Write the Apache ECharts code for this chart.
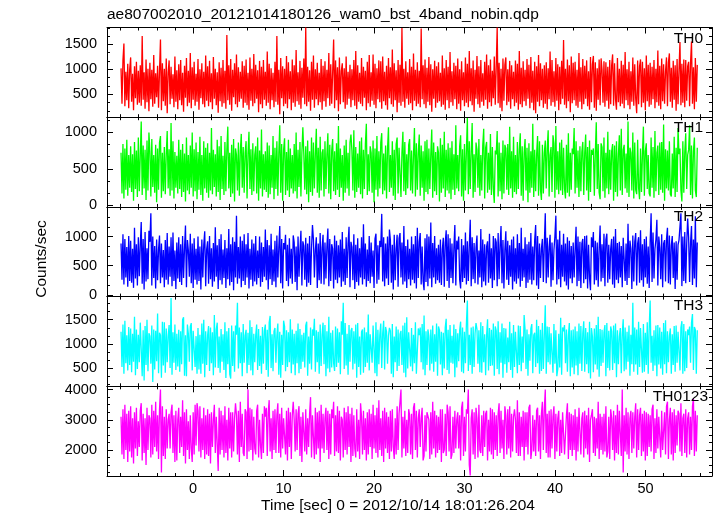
<!DOCTYPE html>
<html><head><meta charset="utf-8">
<script src="https://cdn.jsdelivr.net/npm/echarts@6/dist/echarts.min.js"></script>
<style>html,body{margin:0;padding:0;background:#fff}#c{width:717px;height:516px}</style>
</head><body><div id="c"></div>
<script>
// ---------- data ----------
const chartTitle = "ae807002010_20121014180126_wam0_bst_4band_nobin.qdp";
const xTitle = "Time [sec] 0 = 2012/10/14 18:01:26.204";
const yTitle = "Counts/sec";
const bandNames = ["TH0", "TH1", "TH2", "TH3", "TH0123"];
const timeStart = -7.95;   // first bin time (s)
const timeStep = 0.1063;   // bin spacing (s)
const xTickValues = [0, 10, 20, 30, 40, 50];
const yTicksTH0 = [500, 1000, 1500];
const yTicksTH1 = [0, 500, 1000];
const yTicksTH2 = [0, 500, 1000];
const yTicksTH3 = [500, 1000, 1500];
const yTicksTH0123 = [2000, 3000, 4000];

const th0 = [
1020,310,1180,1520,260,950,380,1110,220,990,
1240,350,910,180,1060,420,1150,290,970,330,
1080,270,1670,390,940,210,1200,340,1010,160,
1130,400,990,250,1290,310,920,440,1070,230,
960,1600,180,1120,360,1010,270,1220,120,940,
1180,300,1050,410,900,240,1260,350,980,200,
1100,380,1190,280,930,150,1070,430,1230,260,
970,330,1330,220,1040,390,1150,270,910,350,
1210,190,1000,420,1120,300,950,240,1280,370,
1060,260,1170,340,920,200,1250,410,1010,280,
940,130,1140,360,1030,250,1190,320,970,210,
1690,380,1080,290,1210,170,990,440,1120,300,
1300,240,1040,350,950,410,1160,230,1070,330,
1200,280,930,190,1240,370,1010,260,1310,320,
1090,410,980,140,1170,300,1050,220,1190,390,
950,270,1360,330,1110,200,1020,380,930,240,
1150,350,1670,290,990,100,1230,420,1060,260,
1010,310,1270,220,1140,400,960,180,1200,330,
1080,250,1390,360,940,290,1170,210,1030,430,
1220,300,1840,260,1050,350,980,170,1150,390,
1280,230,1000,400,1130,280,930,340,1210,190,
1070,360,1160,250,990,420,1330,270,1100,310,
950,1600,220,1180,380,1040,160,1240,300,970,
1120,340,1020,210,1260,290,950,410,1090,240,
1000,380,1190,270,1370,200,1080,350,930,310,
1230,260,1050,430,970,180,1150,320,1290,250,
940,370,1300,290,1110,220,1020,400,1180,340,
1160,210,1260,360,950,280,1070,190,1230,420,
1040,300,1400,250,1120,380,980,140,1190,330,
1090,270,1830,350,1010,230,1160,410,940,290,
1210,320,1050,180,1320,370,990,260,1140,310,
970,240,1820,400,1080,300,1200,220,1030,350,
1250,280,1100,150,1000,410,1170,230,1060,330,
1140,360,930,250,1280,290,1020,190,1190,380,
1050,220,1350,340,960,270,1130,400,1070,200,
1220,310,1000,170,1160,380,940,260,1240,330,
1110,240,1370,360,1020,280,1180,150,990,410,
1270,300,1060,230,1190,350,920,270,1150,390,
1300,210,1080,340,1200,260,970,420,1260,290,
1040,1840,320,1130,230,1010,160,1220,370,1090,
1240,280,1000,350,1170,210,1080,400,950,260,
1180,330,1110,190,1370,300,1030,240,1160,360,
990,270,1210,410,1090,220,1250,330,970,180,
1150,120,1060,350,1290,260,1120,380,1010,230,
1080,310,1140,200,1020,400,1360,270,1190,340,
960,250,1230,370,1100,180,1050,300,1170,410,
1590,290,1010,220,1200,360,1080,140,1260,320,
1130,380,1150,270,990,230,1330,350,1040,200,
1210,300,1070,410,1180,260,960,190,1250,340,
1100,1270,230,1140,170,1020,390,1200,280,1220,
990,330,1160,250,1140,370,1050,210,1190,300,
1080,1300,270,1120,400,190,1230,340,1010,260,
1170,310,1090,220,1350,380,1000,280,1150,200,
960,350,1240,270,1100,410,120,1180,300,1060,
1200,240,1150,330,1020,180,1280,360,1090,250,
1130,290,1050,400,1190,220,1010,340,1380,270,
1070,200,1220,360,1100,310,960,1240,260,1140,
1320,350,1030,230,1170,390,1080,170,1210,300,
990,1550,280,1110,330,1200,240,1190,370,1060,
1150,260,1130,1560,310,1040,200,1230,350,1090
];
const th1 = [
720,160,840,90,780,210,900,130,690,240,
810,180,700,60,870,220,750,110,930,190,
680,1150,140,820,230,760,70,890,200,1000,
740,120,910,250,690,170,830,40,780,210,
860,950,100,720,190,800,150,700,1020,230,
770,130,1130,200,880,90,730,240,680,160,
900,220,760,110,840,180,710,50,930,200,
690,150,820,240,1000,120,770,190,860,80,
730,210,940,140,690,60,880,230,790,170,
850,100,720,200,1060,150,760,250,700,120,
900,180,810,70,950,220,680,140,870,190,
760,1080,230,720,110,830,160,910,50,780,
690,200,860,130,740,980,240,800,170,720,
880,90,710,1010,220,770,140,850,190,690,
810,160,930,60,750,230,1040,120,700,210,
740,180,860,100,820,150,690,240,950,80,
790,220,880,130,710,1100,170,840,60,760,
920,140,730,200,900,110,780,230,690,160,
840,190,1000,90,760,250,870,120,720,1070,
700,210,810,150,890,40,740,180,930,130,
860,230,700,1050,170,790,100,940,200,720,
770,120,880,220,690,990,160,830,80,750,
910,190,740,140,850,210,1090,110,780,240,
690,60,820,170,900,230,720,130,860,970,
750,200,1030,100,800,180,710,240,880,150,
930,90,760,220,840,1120,140,700,190,810,
720,170,890,40,780,210,950,120,740,230,
860,990,150,710,200,820,90,770,1070,180,
690,240,880,130,760,70,840,930,160,790,
800,110,720,1010,190,870,140,700,230,830,
910,200,750,160,690,1060,120,850,210,720,
970,130,820,240,740,60,880,180,900,150,
780,220,700,1040,100,860,190,730,140,810,
720,50,920,170,830,230,1010,110,760,200,
850,160,790,80,880,210,700,140,1100,230,
690,190,810,960,120,770,60,840,200,740,
1200,150,880,220,730,1130,100,700,180,860,
760,240,910,130,690,200,820,1050,90,790,
870,170,720,210,980,140,800,230,30,750,
700,1020,120,860,190,720,80,890,160,830,
780,210,840,140,1080,230,740,100,940,180,
690,150,870,220,760,990,130,810,60,720,
910,200,790,40,850,170,740,240,1120,110,
760,190,700,950,130,880,210,70,830,160,
720,890,230,780,1030,120,690,800,180,960,
850,100,1090,210,740,150,860,200,900,140,
790,230,90,830,170,990,120,720,210,780,
700,1060,160,880,240,750,110,810,190,730,
870,140,720,970,200,800,60,890,180,760,
690,780,130,710,1140,220,840,170,80,850,
800,190,930,100,720,230,1010,150,760,210,
740,840,60,820,180,880,120,700,960,200,
1050,140,760,830,230,710,170,1150,110,790,
720,200,1000,90,860,210,150,900,240,80,
780,180,700,1080,130,740,850,220,690,160,
120,930,240,800,100,1020,190,720,820,140,
860,210,870,170,1110,60,770,230,750,200,
880,150,120,710,230,940,110,790,180,1060,
700,780,200,50,880,170,730,990,220,690,
760,1100,140,820,90,740,930,200,110,790
];
const th2 = [
880,260,1040,180,960,300,820,140,1010,240,
930,210,790,120,1150,280,870,160,990,320,
850,1250,190,960,90,1080,230,800,270,1100,
910,1400,160,1000,290,840,110,950,250,780,
1020,200,880,300,770,130,940,260,1060,180,
830,310,990,150,1070,240,760,100,900,280,
990,220,870,170,1010,290,800,1190,130,940,
760,310,1050,200,880,120,970,260,790,180,
1000,240,830,90,950,300,860,1090,150,780,
920,190,1010,270,800,140,890,230,1160,310,
850,100,960,250,1040,180,780,290,940,120,
800,270,1130,160,870,220,990,80,910,300,
1360,190,820,280,1000,130,930,240,1040,170,
870,300,1060,110,790,260,950,150,880,230,
1010,180,760,290,1000,140,900,220,820,310,
1120,250,940,90,850,270,1050,170,780,230,
930,130,1020,300,810,1180,200,960,110,890,
780,1030,240,860,150,970,280,790,190,1020,
900,220,830,80,1000,310,760,1100,160,920,
840,260,980,140,880,210,1010,170,790,1200,
950,300,770,990,120,880,250,1060,190,810,
1030,180,900,280,820,1140,150,960,240,870,
790,110,1020,260,930,200,850,300,950,140,
1080,230,790,170,990,290,880,1170,130,910,
820,250,1040,100,860,220,970,160,800,300,
990,180,1210,270,880,140,780,240,1010,200,
900,310,760,120,960,1050,190,850,260,930,
820,1390,230,990,150,880,280,1000,170,1120,
940,210,860,90,1030,250,790,1030,140,970,
1060,300,900,180,1180,230,840,120,950,270,
790,160,1000,260,870,200,1010,110,1150,290,
910,1060,180,830,240,80,970,220,1040,150,
1000,280,1240,130,890,300,1010,190,800,250,
860,210,950,170,780,980,140,900,1110,240,
1040,120,970,290,880,200,810,1200,160,930,
780,1000,260,110,960,220,850,290,1070,180,
920,240,830,1290,150,990,270,890,200,810,
1020,180,760,300,1130,130,950,230,870,160,
830,920,210,1050,280,800,120,1010,250,970,
900,150,1060,270,860,1180,200,940,110,780,
1090,260,930,170,850,310,950,90,1000,230,
800,190,1040,280,890,140,1150,240,790,300,
990,120,870,210,910,260,1060,180,830,250,
940,1200,160,1010,100,880,290,790,960,220,
870,1400,200,980,300,820,1030,140,900,250,
770,1000,1360,180,950,270,1100,130,860,310,
1050,230,880,160,990,90,930,280,840,200,
900,300,780,1170,150,1000,240,910,120,880,
960,200,1010,270,1020,110,860,290,80,990,
820,1080,180,930,250,900,140,800,1190,230,
870,290,1050,150,950,1050,210,860,270,790,
960,180,1000,120,1130,260,890,200,910,300,
840,130,980,1000,240,880,170,1220,290,930,
790,100,1020,230,910,1060,160,880,990,210,
1110,250,870,140,960,300,1000,190,830,120,
900,1400,220,1070,280,790,950,1290,160,1000,
810,270,1040,130,880,940,230,960,1150,200,
1020,180,850,1010,290,900,100,920,260,860,
940,960,1400,150,1000,240,1080,200,870,1310,
990,220,890,1180,170,950,280,1350,130,900
];
const th3 = [
1250,520,1400,380,1480,600,1180,450,1350,560,
1320,410,1210,630,1560,350,1300,480,1190,620,
1440,1420,330,1280,240,1370,560,1500,430,1220,
1160,590,1380,210,1300,470,1270,640,1630,390,
1230,1180,300,1460,550,1450,400,1320,620,1170,
1390,500,1950,360,1240,610,1400,460,1210,530,
1290,420,1260,580,1500,1550,340,1180,330,1400,
1210,630,1360,1430,450,1270,1290,520,1160,380,
1330,470,1190,380,1420,590,1500,310,1260,560,
1180,1370,440,1340,600,1240,350,1600,510,1300,
1440,500,1150,400,1310,630,1200,460,1450,290,
1260,580,1330,370,280,1380,540,1260,420,1380,
1190,1850,490,1340,600,1240,330,1410,610,1170,
1290,390,1230,560,1490,450,1350,350,1210,620,
1180,1400,460,1310,540,1170,380,1350,590,1270,
1400,460,1290,320,1440,1580,500,1200,430,1260,
1330,610,1170,1420,360,1250,300,1190,560,1480,
1360,430,1280,520,1240,620,1510,390,1300,570,
1210,350,1270,600,1420,390,1310,480,1190,630,
1230,510,1380,1460,340,1150,590,1340,470,1300,
1170,1520,420,1280,620,1250,380,1400,540,1190,
1440,580,1390,330,1260,490,1560,410,1230,510,
1280,600,440,1360,520,1320,610,1240,370,1470,
1190,1850,480,1430,550,1210,360,1390,630,1270,
1330,470,1260,590,1400,300,1430,520,1150,360,
1250,1300,400,1340,520,1240,610,1610,450,1200,
1190,610,1380,1370,390,1450,330,1290,580,1180,
1420,500,1220,1480,470,1350,1250,590,1170,1330,
1270,380,1410,310,1150,620,1360,440,1300,540,
1200,1270,560,1380,400,1440,310,1550,490,1240,
1240,530,1330,430,1190,600,1450,380,400,1320,
1180,1340,620,1410,470,1590,350,1260,560,1300,
1160,450,1300,590,1380,420,1200,630,1420,340,
1360,1280,570,1250,350,1230,490,1340,1520,460,
1290,380,1390,610,1170,590,1400,310,1310,510,
1220,640,1280,1460,420,1340,390,1250,600,1410,
1900,440,1190,560,1340,380,1360,520,1220,1430,
1300,590,1280,410,1450,400,1370,620,1200,350,
1180,1510,450,1330,540,1290,550,1420,340,1360,
1270,480,1470,370,1240,610,1420,300,1330,580,
1320,400,1130,620,1460,460,1220,300,1390,520,
1250,1250,390,1380,560,1370,430,1150,610,1600,
1290,480,1300,340,1200,650,1310,1410,390,1180,
1230,520,1500,600,1370,380,1290,440,1430,480,
1170,1800,380,1360,620,1350,570,1220,1250,400,
1410,590,1280,330,480,1210,510,1540,360,1340,
1260,1390,600,1300,420,1170,1430,330,1280,510,
1300,370,1360,550,1260,350,1420,590,1370,440,
1220,1470,420,1330,580,1240,390,1460,280,1330,
1150,410,1320,570,1390,470,1560,320,1310,540,
1290,610,1240,1390,330,1430,500,1270,450,1360,
1260,460,1380,600,1420,310,1280,580,1150,1330,
390,1220,1510,430,1340,470,1250,630,1380,340,
1190,580,1850,420,1340,570,1300,360,1460,520,
1330,1340,400,1410,420,1230,560,1450,380,1310,
1900,610,1170,440,1280,550,1380,330,1390,570,
1340,490,1250,360,1430,580,1490,390,1260,620,
1160,1320,380,1200,560,1370,420,1380,610,1250,
1230,450,1340,1470,380,1410,430,1260,500,1300,
1180,1360,610,1440,1620,460,1350,1290,380,1280
];
const th0123 = [
3100,1850,3350,1700,3500,2000,3200,1600,3300,1950,
3450,1750,3050,1550,3250,2050,3400,1800,2950,2100,
3300,3550,1650,3200,1900,3050,1500,3400,2000,3150,
3050,1750,3500,1850,3300,2100,3600,1950,3150,1700,
3350,4000,1250,3450,1800,3100,1700,3350,2050,3000,
3200,2050,3250,3500,1900,3150,1600,3300,1650,3000,
3400,1900,3100,2100,3650,1800,3250,1550,3350,2000,
2950,1700,3150,2050,1600,3250,1850,3500,2150,3550,
3300,1950,3450,1750,3050,2000,3400,1700,3150,1850,
3350,1800,3200,1550,3250,2100,3000,3500,1900,3100,
3150,1300,3400,1850,3300,2000,3150,1750,3450,1900,
3000,1650,3400,2050,3250,1750,3250,1950,3050,3550,
3150,1850,3300,1600,3600,2100,3200,1900,1800,3350,
3250,1700,4000,1950,3400,2000,3350,1650,3100,2050,
1850,3300,3500,1750,3000,2150,1700,3200,1900,3450,
3100,3400,1800,3250,3650,1950,3050,1700,3300,2000,
3350,1900,3150,3550,1900,3200,1750,3400,2050,3050,
3100,1850,3300,1650,3400,2100,3250,1700,3150,3600,
3000,1950,3350,2000,3200,3450,1800,3100,1600,3250,
3300,1950,3350,1850,3050,2100,3200,3750,1750,3150,
3150,1700,3400,1850,3250,2050,3300,1600,3500,2050,
3200,1900,3050,3400,2000,3300,1700,3200,1850,3350,
3050,3600,1800,3150,1950,3450,1900,3300,1650,3100,
3000,1750,3400,2000,3250,1850,3450,2100,3200,1600,
3400,1800,3150,2050,1750,3350,1950,3000,1700,3550,
3100,1850,3300,2000,3050,1650,3250,1850,3350,2100,
3200,1700,3500,2050,3150,1900,3400,1750,3650,2000,
3050,1800,3300,1600,3400,2050,3250,1900,3100,1700,
3300,1950,3350,2100,1700,3050,1850,3450,2000,3200,
3250,4000,1750,3100,2050,3300,1800,3000,1900,3350,
3150,1850,3200,1700,3400,3550,2000,3300,1750,3050,
3350,2100,3050,3400,1650,1800,3150,1950,3250,3300,
3000,1700,3250,1850,3600,2050,3300,1750,3150,1900,
3100,2000,3350,1600,3350,1900,2000,3200,1800,3500,
3250,1950,3450,1700,1850,3100,1900,3300,2050,3000,
3250,2050,3150,1650,3400,3600,1800,3100,1950,3350,
3200,4000,1500,1150,3050,3350,1850,3250,1700,3400,
3050,1750,3500,2000,1900,3150,1800,3300,2100,3200,
3300,1650,3000,1950,3400,1850,3350,1700,3250,2000,
3150,1800,3200,3550,1900,3300,2050,3000,1700,3450,
3150,1850,3350,2050,3450,1750,3200,1950,3100,3350,
3000,1900,3650,1800,3250,1800,3100,2100,3300,1650,
3250,2100,3250,1850,3400,3500,1700,2000,3150,1950,
3000,1800,3300,3400,1950,3150,1700,3200,3600,2000,
3350,4000,1900,3200,1750,3300,1750,3350,2050,3100,
3450,1700,3200,1950,3050,3300,1800,3000,1900,3250,
3300,1850,1900,3150,3550,1700,3250,2000,3200,1800,
3150,2000,3350,1650,3100,1950,3400,3450,1850,3050,
3250,1750,3300,2050,3150,1850,3400,1600,3000,3150,
3350,1900,3100,1800,3050,2050,3600,1700,3200,2000,
3100,1850,3200,1950,3450,1750,1950,3100,1700,3350,
3050,2000,3300,1650,3150,1900,3500,1850,3300,3250,
1800,4000,1250,3150,1950,3400,1850,3250,1700,3050,
3300,1900,3250,2050,3100,3550,1750,3350,2000,3150,
3400,1800,3200,1950,3300,1650,3250,1800,3200,2100,
3150,1950,3350,3500,1700,3050,1900,3350,2050,3100,
3150,1750,3300,2000,1950,3250,1850,3450,3600,1700,
3000,3400,1850,3250,1650,3350,1900,3150,2150,3300,
3200,1950,3550,1800,3050,3200,1900,3350,1750,3050,
3250,1850,3100,2000,3450,3700,1800,3300,1950,3150
];

// ---------- layout / style ----------
const FONT = "'Liberation Sans', Arial, Helvetica, sans-serif";
const INK = '#000';
const XMIN = -9.5, XMAX = 57.35;
const GL = 107, GW = 605, TOP0 = 27.5, PH = 89.7;

const panels = [
  {name: bandNames[0], data: th0, min: 40, max: 1840, ticks: yTicksTH0, minorStep: 500/3, color: '#ff0000', labelY: 38.5, labelX: 703},
  {name: bandNames[1], data: th1, min: -25, max: 1210, ticks: yTicksTH1, minorStep: 500/3, color: '#00ff00', labelY: 127.5, labelX: 703},
  {name: bandNames[2], data: th2, min: -30, max: 1510, ticks: yTicksTH2, minorStep: 500/3, color: '#0000ff', labelY: 217, labelX: 703},
  {name: bandNames[3], data: th3, min: 120, max: 1980, ticks: yTicksTH3, minorStep: 500/3, color: '#00ffff', labelY: 306, labelX: 703},
  {name: bandNames[4], data: th0123, min: 1135, max: 4110, ticks: yTicksTH0123, minorStep: 250, color: '#ff00ff', labelY: 397, labelX: 708}
];

function minorList(lo, hi, step, majors) {
  const out = [];
  const k0 = Math.ceil(lo / step - 1e-9), k1 = Math.floor(hi / step + 1e-9);
  for (let k = k0; k <= k1; k++) {
    const v = k * step;
    if (!majors.some(m => Math.abs(m - v) < 1e-6)) out.push(v);
  }
  return out;
}
const xMinor = minorList(XMIN, XMAX, 2, xTickValues);
const plain = v => String(Math.round(v));

const grids = [], xAxes = [], yAxes = [], series = [], graphics = [];

function axisBase(extra) {
  return Object.assign({
    type: 'value', splitLine: {show: false}, axisLabel: {show: false}
  }, extra);
}

panels.forEach((p, i) => {
  grids.push({left: GL, width: GW, top: TOP0 + i * PH, height: PH, containLabel: false});
  const xi = xAxes.length;
  ['bottom', 'top'].forEach(pos => {
    const isLabelAxis = (pos === 'bottom' && i === panels.length - 1);
    xAxes.push(axisBase({
      gridIndex: i, position: pos, min: XMIN, max: XMAX,
      axisLine: {show: true, onZero: false, lineStyle: {color: INK, width: 1}},
      axisTick: {show: true, inside: true, length: 6, customValues: xTickValues, lineStyle: {color: INK, width: 1}},
      axisLabel: isLabelAxis ? {show: true, customValues: xTickValues, formatter: plain, margin: 5, color: INK, fontSize: 14.5, fontFamily: FONT} : {show: false}
    }));
    xAxes.push(axisBase({
      gridIndex: i, position: pos, min: XMIN, max: XMAX,
      axisLine: {show: false, onZero: false},
      axisTick: {show: true, inside: true, length: 3, customValues: xMinor, lineStyle: {color: INK, width: 1}}
    }));
  });
  const yi = yAxes.length;
  const yMinor = minorList(p.min, p.max, p.minorStep, p.ticks);
  ['left', 'right'].forEach(pos => {
    yAxes.push(axisBase({
      gridIndex: i, position: pos, min: p.min, max: p.max,
      axisLine: {show: true, onZero: false, lineStyle: {color: INK, width: 1}},
      axisTick: {show: true, inside: true, length: 6, customValues: p.ticks, lineStyle: {color: INK, width: 1}},
      axisLabel: pos === 'left' ? {show: true, customValues: p.ticks, formatter: plain, margin: 10, color: INK, fontSize: 14.5, fontFamily: FONT} : {show: false}
    }));
    yAxes.push(axisBase({
      gridIndex: i, position: pos, min: p.min, max: p.max,
      axisLine: {show: false, onZero: false},
      axisTick: {show: true, inside: true, length: 3, customValues: yMinor, lineStyle: {color: INK, width: 1}}
    }));
  });
  series.push({
    type: 'line', xAxisIndex: xi, yAxisIndex: yi,
    data: p.data.map((v, k) => [timeStart + k * timeStep, v]),
    showSymbol: false, symbol: 'none', silent: true, animation: false,
    lineStyle: {color: p.color, width: 1.3, join: 'miter', miterLimit: 2}, z: 1
  });
  graphics.push({
    type: 'text', x: p.labelX, y: p.labelY, z: 100,
    style: {text: p.name, fill: INK, font: '15.5px ' + FONT, textAlign: 'right', textVerticalAlign: 'middle'}
  });
});

graphics.push({type: 'text', x: GL, y: 15, style: {text: chartTitle, fill: INK, font: '15.5px ' + FONT, textAlign: 'left', textVerticalAlign: 'middle'}});
graphics.push({type: 'text', x: 398, y: 506, style: {text: xTitle, fill: INK, font: '15.5px ' + FONT, textAlign: 'center', textVerticalAlign: 'middle'}});
graphics.push({type: 'text', x: 42, y: 259, rotation: Math.PI / 2, style: {text: yTitle, fill: INK, font: '15.5px ' + FONT, textAlign: 'center', textVerticalAlign: 'middle'}});

const chart = echarts.init(document.getElementById('c'), null, {renderer: 'canvas'});
chart.setOption({
  backgroundColor: '#fff',
  animation: false,
  grid: grids, xAxis: xAxes, yAxis: yAxes, series: series, graphic: graphics
});
</script></body></html>
